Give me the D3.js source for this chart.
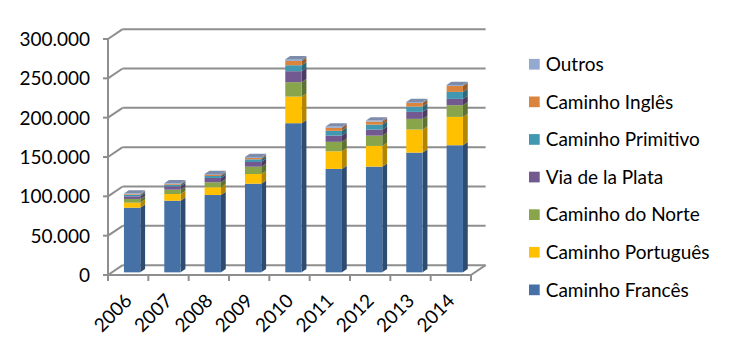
<!DOCTYPE html>
<html>
<head>
<meta charset="utf-8">
<script src="https://cdn.jsdelivr.net/npm/d3@7"></script>
<style>
  body { margin: 0; background: #fff; }
  text { font-family: Lato, "Open Sans", sans-serif; fill: #000; }
</style>
</head>
<body>
<div id="chart"></div>
<script>
// data (pilgrims per route)
var years = ["2006", "2007", "2008", "2009", "2010", "2011", "2012", "2013", "2014"];
var series = ["Caminho Francês", "Caminho Português", "Caminho do Norte", "Via de la Plata",
              "Caminho Primitivo", "Caminho Inglês", "Outros"];
var frances   = [82200, 91100, 98300, 112700, 189600, 131500, 134400, 152200, 161600];
var portugues = [6400, 8500, 9800, 12300, 33800, 22400, 26300, 29300, 36000];
var norte     = [4700, 5500, 6400, 9300, 18300, 12000, 13100, 13600, 14900];
var plata     = [3400, 4300, 5500, 6000, 14000, 8000, 7600, 8900, 8000];
var primitivo = [1700, 2000, 2500, 3400, 7600, 6000, 6400, 6700, 8900];
var ingles    = [900, 900, 1300, 1700, 5500, 3800, 3800, 4700, 7600];
var outros    = [800, 900, 1300, 1300, 2200, 1700, 1300, 1300, 1300];
var yTicks = [0, 50000, 100000, 150000, 200000, 250000, 300000];

var front = ["#4571a6", "#ffc000", "#89a54c", "#72598f", "#4298b0", "#db843d", "#93a9cf"];
var side  = ["#2e4b70", "#b38600", "#5e7234", "#4d3c62", "#2c6878", "#985b29", "#6b7b96"];
var top_  = ["#7a90b8", "#ffd45c", "#aac27a", "#9784b0", "#76b8c9", "#e9a46a", "#7d8cab"];

var width = 732, height = 354;
var DX = 14.6, DY = -9.8;      // depth direction of the 3d box
var f0 = 0.27, f1 = 0.6;       // bar front / back depth

var svg = d3.select("#chart").append("svg")
    .attr("width", width)
    .attr("height", height);

var x = d3.scaleBand().domain(years).range([108, 471]);
var y = d3.scaleLinear().domain([0, 300000]).range([275, 39]);
var fmt = function(v) { return d3.format(",")(v).replace(/,/g, "."); };

var grid = svg.append("g").attr("stroke", "#8e8e8e").attr("stroke-width", 2).attr("fill", "none");

// back wall lines and left wall diagonals
yTicks.forEach(function(t) {
    grid.append("line")
        .attr("x1", x.range()[0] + DX).attr("x2", x.range()[1] + DX)
        .attr("y1", y(t) + DY).attr("y2", y(t) + DY);
    grid.append("line")
        .attr("x1", x.range()[0]).attr("x2", x.range()[0] + DX)
        .attr("y1", y(t)).attr("y2", y(t) + DY);
});
// floor right edge
grid.append("line")
    .attr("x1", x.range()[1]).attr("x2", x.range()[1] + DX)
    .attr("y1", y(0)).attr("y2", y(0) + DY);

// stacked bars
var rows = years.map(function(yr, i) {
    return {
        year: yr,
        "Caminho Francês": frances[i], "Caminho Português": portugues[i],
        "Caminho do Norte": norte[i], "Via de la Plata": plata[i],
        "Caminho Primitivo": primitivo[i], "Caminho Inglês": ingles[i], "Outros": outros[i]
    };
});
var stacked = d3.stack().keys(series)(rows);

var bw = x.bandwidth() * 0.405;
var bars = svg.append("g");

years.forEach(function(yr, i) {
    var cx = x(yr) + x.bandwidth() / 2 + f0 * DX;
    var xl = cx - bw / 2, xr = cx + bw / 2;
    var ddx = (f1 - f0) * DX, ddy = (f1 - f0) * DY;
    var g = bars.append("g");
    stacked.forEach(function(s, k) {
        var v0 = s[i][0], v1 = s[i][1];
        var yt = y(v1) + f0 * DY, yb = y(v0) + f0 * DY;
        g.append("polygon")
            .attr("points", [[xr, yt], [xr + ddx, yt + ddy], [xr + ddx, yb + ddy], [xr, yb]].join(" "))
            .attr("fill", side[k]);
        g.append("rect")
            .attr("x", xl).attr("y", yt)
            .attr("width", bw).attr("height", Math.max(0, yb - yt))
            .attr("fill", front[k]);
        if (k == series.length - 1) {
            g.append("polygon")
                .attr("points", [[xl, yt], [xr, yt], [xr + ddx, yt + ddy], [xl + ddx, yt + ddy]].join(" "))
                .attr("fill", top_[k]);
        }
    });
});

// front axes
var ax = svg.append("g").attr("stroke", "#8e8e8e").attr("stroke-width", 2).attr("fill", "none");
ax.append("line").attr("x1", x.range()[0]).attr("x2", x.range()[0])
    .attr("y1", y(300000)).attr("y2", y(0) + 1);
ax.append("line").attr("x1", x.range()[0] - 1).attr("x2", x.range()[1])
    .attr("y1", y(0)).attr("y2", y(0));
yTicks.forEach(function(t) {
    ax.append("line").attr("x1", x.range()[0] - 5).attr("x2", x.range()[0])
        .attr("y1", y(t)).attr("y2", y(t));
});
years.concat(["end"]).forEach(function(yr, i) {
    var xx = x.range()[0] + i * x.bandwidth();
    ax.append("line").attr("x1", xx).attr("x2", xx)
        .attr("y1", y(0)).attr("y2", y(0) + 6);
});

// tick labels
svg.append("g").selectAll("text").data(yTicks).enter().append("text")
    .attr("x", 90).attr("y", function(d) { return y(d); })
    .attr("dy", "0.36em")
    .attr("text-anchor", "end")
    .style("font-size", "19px")
    .text(fmt);

svg.append("g").selectAll("text").data(years).enter().append("text")
    .attr("transform", function(d) {
        return "translate(" + (x(d) + x.bandwidth() / 2 + 5) + ",302) rotate(-45)";
    })
    .attr("text-anchor", "end")
    .style("font-size", "19px")
    .text(function(d) { return d; });

// legend (top to bottom reversed)
var legend = svg.append("g").selectAll("g").data(series.slice().reverse()).enter().append("g")
    .attr("transform", function(d, i) { return "translate(529," + (64.2 + i * 37.6) + ")"; });
legend.append("rect")
    .attr("x", 0).attr("y", -5.3).attr("width", 10.7).attr("height", 10.7)
    .attr("fill", function(d) { return front[series.indexOf(d)]; });
legend.append("text")
    .attr("x", 16.7).attr("dy", "0.36em")
    .style("font-size", "19px")
    .text(function(d) { return d; });
</script>
</body>
</html>
